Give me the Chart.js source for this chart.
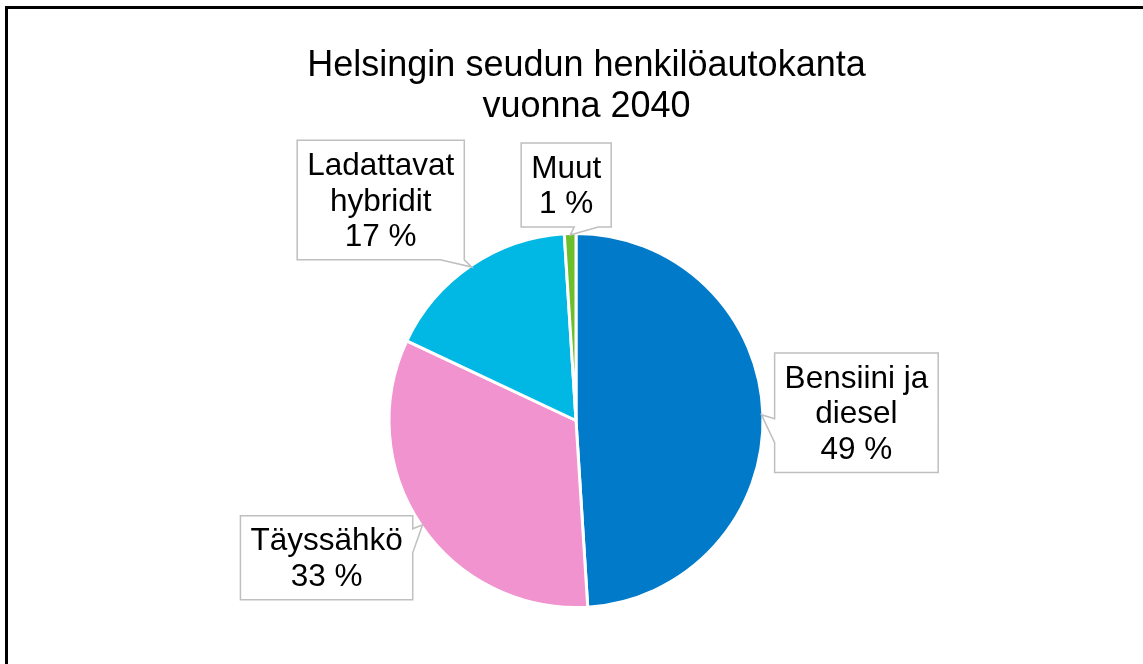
<!DOCTYPE html>
<html lang="fi">
<head>
<meta charset="utf-8">
<title>Helsingin seudun henkilöautokanta vuonna 2040</title>
<script src="https://cdn.jsdelivr.net/npm/chart.js@4.4.1/dist/chart.umd.min.js"></script>
<style>
  html, body { margin: 0; padding: 0; background: #fff; overflow: hidden; }
  #frame { position: absolute; left: 5px; top: 6px; width: 1200px; height: 720px; border: 3px solid #000; box-sizing: border-box; }
  #wrap { position: absolute; left: 0; top: 0; width: 1143px; height: 664px; }
</style>
</head>
<body>
<div id="frame"></div>
<div id="wrap"><canvas id="grafica"></canvas></div>
<script>
const titleLines = ['Helsingin seudun henkilöautokanta', 'vuonna 2040'];
const categories = ['Bensiini ja diesel', 'Täyssähkö', 'Ladattavat hybridit', 'Muut'];
const labelLines = [['Bensiini ja', 'diesel'], ['Täyssähkö'], ['Ladattavat', 'hybridit'], ['Muut']];
const shares = [49, 33, 17, 1];
const colors = ['#007AC9', '#F093CE', '#00B8E3', '#6DBE2B'];

// callout box centre relative to the point on the slice edge it points at
const calloutOffsets = [[95, -2], [-96, 33], [-91, -67], [-4, -50]];

const FONT = '"Liberation Sans", Arial, sans-serif';
const LABEL_SIZE = 31.5;
const LINE_H = 35.5;
const PAD_X = 10;
const PAD_Y = 6.5;
const WEDGE = 24;

function drawCallout(ctx, box, tip) {
    const ox = tip.x > box.r ? tip.x - box.r : (tip.x < box.l ? box.l - tip.x : 0);
    const oy = tip.y > box.b ? tip.y - box.b : (tip.y < box.t ? box.t - tip.y : 0);
    let side = null;
    if (ox > 0 || oy > 0) {
        // corner cases go to top/bottom edge, like Excel does
        if (oy > 0 && oy * 1.5 >= ox) side = tip.y > box.b ? 'bottom' : 'top';
        else side = tip.x > box.r ? 'right' : 'left';
    }
    let a, b;
    if (side === 'left' || side === 'right') {
        a = Math.min(Math.max(tip.y + 4, box.t), box.b - WEDGE);
    } else if (side) {
        a = Math.min(Math.max(tip.x + 4, box.l), box.r - WEDGE);
    }
    b = a + WEDGE;

    const pts = [[box.l, box.t]];
    if (side === 'top') pts.push([a, box.t], [tip.x, tip.y], [b, box.t]);
    pts.push([box.r, box.t]);
    if (side === 'right') pts.push([box.r, a], [tip.x, tip.y], [box.r, b]);
    pts.push([box.r, box.b]);
    if (side === 'bottom') pts.push([b, box.b], [tip.x, tip.y], [a, box.b]);
    pts.push([box.l, box.b]);
    if (side === 'left') pts.push([box.l, b], [tip.x, tip.y], [box.l, a]);

    ctx.beginPath();
    pts.forEach((p, k) => k ? ctx.lineTo(p[0], p[1]) : ctx.moveTo(p[0], p[1]));
    ctx.closePath();
    ctx.fillStyle = '#fff';
    ctx.fill();
    ctx.lineWidth = 1.5;
    ctx.strokeStyle = '#BFBFBF';
    ctx.stroke();
}

const calloutPlugin = {
    id: 'callouts',
    afterDatasetsDraw(chart) {
        const ctx = chart.ctx;
        const meta = chart.getDatasetMeta(0);
        ctx.save();
        ctx.font = LABEL_SIZE + 'px ' + FONT;
        meta.data.forEach((arc, i) => {
            const p = arc.getProps(['x', 'y', 'startAngle', 'endAngle', 'outerRadius'], true);
            const mid = (p.startAngle + p.endAngle) / 2;
            const r = p.outerRadius - 1.5;
            const tip = { x: p.x + Math.cos(mid) * r, y: p.y + Math.sin(mid) * r };
            const lines = labelLines[i].concat(shares[i] + ' %');
            const w = Math.max(...lines.map(t => ctx.measureText(t).width)) + 2 * PAD_X;
            const h = lines.length * LINE_H + 2 * PAD_Y;
            const cx = tip.x + calloutOffsets[i][0];
            const cy = tip.y + calloutOffsets[i][1];
            const box = { l: cx - w / 2, r: cx + w / 2, t: cy - h / 2, b: cy + h / 2 };
            drawCallout(ctx, box, tip);
            ctx.fillStyle = '#000';
            ctx.textAlign = 'center';
            ctx.textBaseline = 'alphabetic';
            lines.forEach((t, k) => ctx.fillText(t, cx, box.t + PAD_Y + 0.795 * LINE_H + k * LINE_H));
        });
        ctx.restore();
    },
    afterDraw(chart) {
        // title, a bit right of the pie centre like in the original
        const ctx = chart.ctx;
        ctx.save();
        ctx.font = '36px ' + FONT;
        ctx.fillStyle = '#000';
        ctx.textAlign = 'center';
        ctx.textBaseline = 'alphabetic';
        ctx.fillText(titleLines[0], 586.5, 76);
        ctx.fillText(titleLines[1], 586.5, 117);
        ctx.restore();
    }
};

const chart = new Chart(document.getElementById('grafica'), {
    type: 'pie',
    data: {
        labels: categories,
        datasets: [{
            data: shares,
            backgroundColor: colors,
            borderColor: '#fff',
            borderWidth: 3
        }]
    },
    options: {
        responsive: true,
        maintainAspectRatio: false,
        animation: false,
        events: [],
        layout: { padding: { top: 232, bottom: 55, left: 376, right: 367 } },
        plugins: {
            legend: { display: false },
            title: { display: false },
            tooltip: { enabled: false }
        }
    },
    plugins: [calloutPlugin]
});
</script>
</body>
</html>
